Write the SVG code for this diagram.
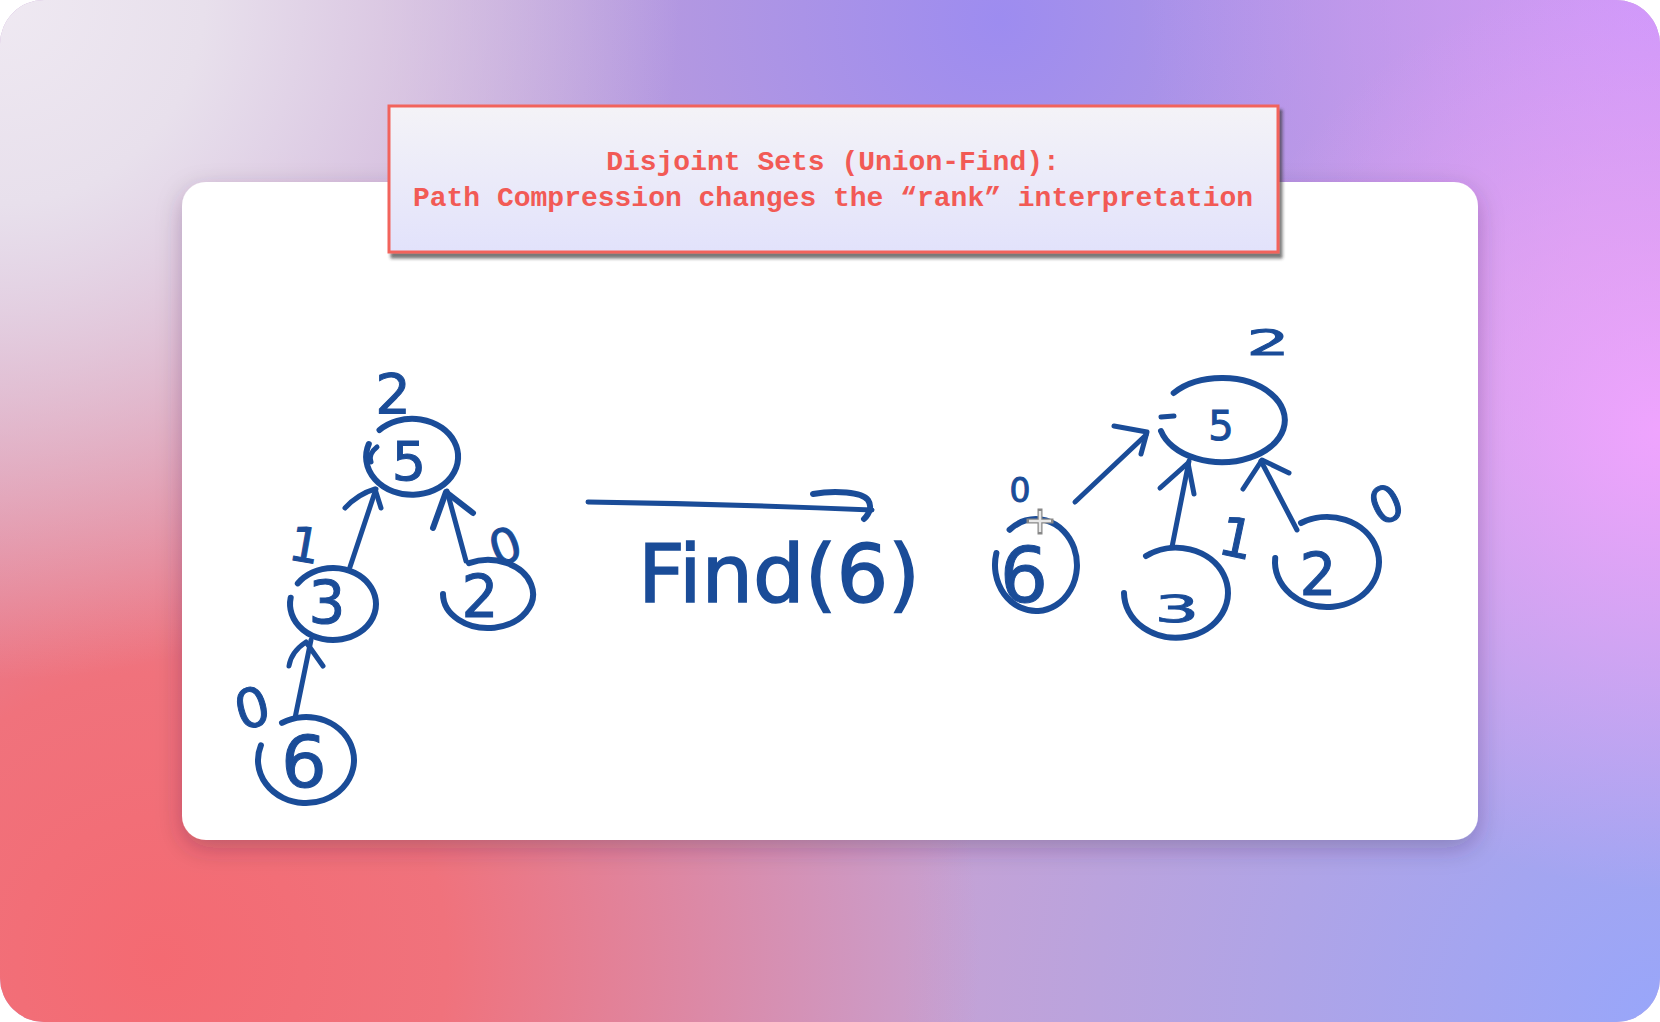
<svg xmlns="http://www.w3.org/2000/svg" width="1660" height="1022" viewBox="0 0 1660 1022">
<defs>
<radialGradient id="gBR" cx="1660" cy="1022" r="760" gradientUnits="userSpaceOnUse"><stop offset="0" stop-color="#98a6fa"/><stop offset="1" stop-color="#98a6fa" stop-opacity="0"/></radialGradient>
<radialGradient id="gBL" cx="160" cy="960" r="820" gradientUnits="userSpaceOnUse"><stop offset="0" stop-color="#f46a72"/><stop offset="0.35" stop-color="#f0727c"/><stop offset="1" stop-color="#f0727c" stop-opacity="0"/></radialGradient>
<radialGradient id="gTM" cx="1000" cy="20" r="620" gradientUnits="userSpaceOnUse"><stop offset="0" stop-color="#9d8cf0"/><stop offset="1" stop-color="#9d8cf0" stop-opacity="0"/></radialGradient>
<radialGradient id="gTR" cx="1660" cy="0" r="520" gradientUnits="userSpaceOnUse"><stop offset="0" stop-color="#cf98fb"/><stop offset="1" stop-color="#cf98fb" stop-opacity="0"/></radialGradient>
<radialGradient id="gR" cx="1660" cy="430" r="460" gradientUnits="userSpaceOnUse"><stop offset="0" stop-color="#efa4fe"/><stop offset="1" stop-color="#efa4fe" stop-opacity="0"/></radialGradient>
<radialGradient id="gTL" cx="0" cy="0" r="680" gradientUnits="userSpaceOnUse"><stop offset="0" stop-color="#efe9f2"/><stop offset="0.3" stop-color="#e8e0ec"/><stop offset="1" stop-color="#e8e0ec" stop-opacity="0"/></radialGradient>
<linearGradient id="gTitle" x1="0" y1="0" x2="0" y2="1"><stop offset="0" stop-color="#f4f3f7"/><stop offset="1" stop-color="#e2e2fb"/></linearGradient>
<filter id="cardShadow" x="-10%" y="-10%" width="120%" height="125%"><feDropShadow dx="0" dy="8" stdDeviation="12" flood-color="#3a2040" flood-opacity="0.28"/></filter>
<filter id="titleShadow" x="-5%" y="-10%" width="110%" height="130%"><feDropShadow dx="3" dy="5" stdDeviation="1.5" flood-color="#333" flood-opacity="0.65"/></filter>
<clipPath id="outer"><rect x="0" y="0" width="1660" height="1022" rx="44"/></clipPath>
</defs>
<style>
.ink{fill:none;stroke:#1a4c98;stroke-width:6;stroke-linecap:round;stroke-linejoin:round}
.thin{stroke-width:5}
.dg{font-family:"DejaVu Sans","Noto Sans",sans-serif;fill:#1a4c98;stroke:#1a4c98;stroke-width:1;text-anchor:middle}
.title{font-family:"Liberation Mono","Courier New",monospace;font-weight:bold;font-size:28px;fill:#f25a55;text-anchor:middle}
</style>
<rect width="1660" height="1022" fill="#ffffff"/>
<g clip-path="url(#outer)">
<rect width="1660" height="1022" fill="#c6a2d4"/>
<rect width="1660" height="1022" fill="url(#gBR)"/>
<rect width="1660" height="1022" fill="url(#gBL)"/>
<rect width="1660" height="1022" fill="url(#gTM)"/>
<rect width="1660" height="1022" fill="url(#gTR)"/>
<rect width="1660" height="1022" fill="url(#gR)"/>
<rect width="1660" height="1022" fill="url(#gTL)"/>
</g>
<rect id="card" x="182" y="182" width="1296" height="658" rx="24" fill="#ffffff" filter="url(#cardShadow)"/>

<g id="title">
<rect x="389" y="106" width="889" height="146" fill="url(#gTitle)" stroke="#f2645c" stroke-width="3" filter="url(#titleShadow)"/>
<text class="title" x="833" y="170">Disjoint Sets (Union-Find):</text>
<text class="title" x="833" y="206">Path Compression changes the “rank” interpretation</text>
</g>

<g id="left-node-5">
<path class="ink" d="M 379.5 430 A 46 38 0 1 1 368.8 444"/>
<path class="ink thin" d="M 377 447 Q 368 454 371 462"/>
<text class="dg" x="409" y="480" font-size="54">5</text>
<text class="dg" x="393" y="413" font-size="56">2</text>
</g>
<g id="left-node-3">
<path class="ink" d="M 297.8 583.4 A 43 36 0 1 1 290.7 597.7"/>
<text class="dg" x="327" y="623" font-size="58">3</text>
<text class="dg" x="305" y="562" font-size="48" transform="rotate(10 305 545)">1</text>
</g>
<g id="left-node-2">
<path class="ink" d="M 469 563.2 A 45 34 0 1 1 443 594"/>
<text class="dg" x="480" y="617" font-size="58">2</text>
<text class="dg" x="505" y="563" font-size="48" transform="rotate(-20 505 545)">0</text>
</g>
<g id="left-node-6">
<path class="ink" d="M 282 722.8 A 48 43 0 1 1 260.9 745.3"/>
<text class="dg" x="304" y="787" font-size="72">6</text>
<text class="dg" x="252" y="727" font-size="54" transform="rotate(-15 252 707)">0</text>
</g>

<g id="right-node-5">
<path class="ink" d="M 1173.7 393 A 63 42 0 1 1 1161 431"/>
<path class="ink thin" d="M 1161 417 L 1174 416"/>
<text class="dg" x="1221" y="440" font-size="40">5</text>
<text class="dg" x="0" y="0" font-size="40" transform="translate(1268 355) scale(1.7 0.9)">2</text>
</g>
<g id="right-node-6">
<path class="ink" d="M 1009.6 529.8 A 41 46 0 1 1 996.4 553"/>
<text class="dg" x="1024" y="602" font-size="76">6</text>
<text class="dg" x="1020" y="502" font-size="33">0</text>
</g>
<g id="right-node-3">
<path class="ink" d="M 1146 556 A 52 45 0 1 1 1124 593"/>
<text class="dg" x="0" y="0" font-size="44" transform="translate(1177 622) scale(1.6 0.85)">3</text>
<text class="dg" x="1237" y="557" font-size="54" transform="rotate(12 1237 537)">1</text>
</g>
<g id="right-node-2">
<path class="ink" d="M 1301 523 A 52 45 0 1 1 1275.2 558"/>
<text class="dg" x="1318" y="595" font-size="58">2</text>
<text class="dg" x="1386" y="522" font-size="50" transform="rotate(-25 1386 504)">0</text>
</g>

<g id="connectors">
<path class="ink thin" d="M 350 567 L 376 489"/>
<path class="ink thin" d="M 345 508 Q 358 494 375 489 L 381 508"/>
<path class="ink thin" d="M 466 561 L 447 491"/>
<path class="ink" d="M 433 528 L 446 492 L 473 513"/>
<path class="ink thin" d="M 295 718 L 311 640"/>
<path class="ink thin" d="M 289 666 Q 291 652 306 642 L 323 666"/>
<path class="ink thin" d="M 1075 502 L 1146 435"/>
<path class="ink thin" d="M 1114 426 L 1147 432 L 1141 454"/>
<path class="ink thin" d="M 1172 547 L 1189 461"/>
<path class="ink thin" d="M 1160 488 L 1188 463 L 1194 494"/>
<path class="ink thin" d="M 1297 530 L 1261 461"/>
<path class="ink thin" d="M 1243 489 L 1262 460 L 1289 473"/>
<path class="ink thin" d="M 588 502 Q 730 504 872 510"/>
<path class="ink" stroke-width="9" d="M 813 494 C 835 490, 862 492, 868 500 C 872 506, 870 513, 864 519"/>
</g>

<g id="find-label">
<text class="dg" x="638" y="602" font-size="80" textLength="282" lengthAdjust="spacingAndGlyphs" style="text-anchor:start;stroke-width:1.5">Find(6)</text>
</g>

<g id="cursor">
<path d="M 1040 511 L 1040 532 M 1029 521 L 1051 521" stroke="#888" stroke-width="5" stroke-linecap="square"/>
<path d="M 1040 511 L 1040 532 M 1029 521 L 1051 521" stroke="#e8e8e8" stroke-width="2.5"/>
</g>
</svg>
